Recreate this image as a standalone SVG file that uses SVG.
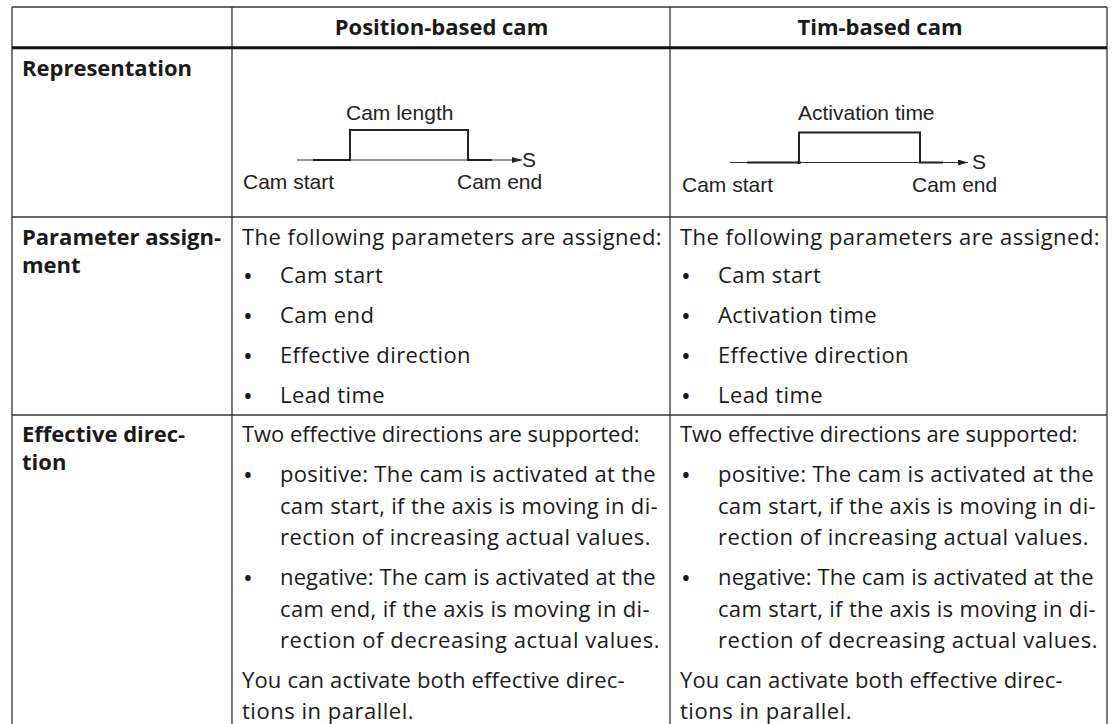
<svg xmlns="http://www.w3.org/2000/svg" width="1114" height="724" viewBox="0 0 1114 724">
  <defs>
    <style>
      .grid { stroke: #333; stroke-width: 1.3; fill: none; }
      .head { stroke: #111; stroke-width: 3; }
      .t { font-family: "Open Sans", "Noto Sans", "DejaVu Sans", sans-serif; font-size: 22px; letter-spacing: 0.4px; fill: #1a1a1a; }
      .dot { font-family: "Open Sans", "Noto Sans", "DejaVu Sans", sans-serif; font-size: 26px; fill: #1a1a1a; text-anchor: middle; }
      .b { font-family: "Open Sans", "Noto Sans", "DejaVu Sans", sans-serif; font-size: 22px; font-weight: bold; fill: #1a1a1a; }
      .d { font-family: "Liberation Sans", Arial, sans-serif; font-size: 21px; fill: #222; }
      .axis { stroke: #333; stroke-width: 1; fill: none; }
      .cam { stroke: #222; stroke-width: 2; fill: none; }
    </style>
    <marker id="arrow" viewBox="0 0 10 6" refX="10" refY="3" markerWidth="10" markerHeight="6" markerUnits="userSpaceOnUse" orient="auto">
      <path d="M0,0 L10,3 L0,6 z" fill="#222"/>
    </marker>
  </defs>

  <rect width="1114" height="724" fill="#fff"/>

  <!-- table rules -->
  <g id="connectors">
    <line class="grid" x1="12" y1="7" x2="1107" y2="7"/>
    <line class="grid" x1="12" y1="7" x2="12" y2="724"/>
    <line class="grid" x1="232" y1="7" x2="232" y2="724"/>
    <line class="grid" x1="670" y1="7" x2="670" y2="724"/>
    <line class="grid" x1="1107" y1="7" x2="1107" y2="724"/>
    <line class="head" x1="12" y1="47.8" x2="1107" y2="47.8"/>
    <line class="grid" x1="12" y1="217" x2="1107" y2="217"/>
    <line class="grid" x1="12" y1="415" x2="1107" y2="415"/>
  </g>

  <!-- header row -->
  <g id="header">
    <text class="b" x="441.5" y="35" text-anchor="middle">Position-based cam</text>
    <text class="b" x="880" y="35" text-anchor="middle">Tim-based cam</text>
  </g>

  <!-- representation row -->
  <g id="representation">
    <text class="b" x="22" y="76">Representation</text>
  </g>

  <g id="position-cam">
    <line class="axis" x1="297" y1="160" x2="522" y2="160" marker-end="url(#arrow)"/>
    <path class="cam" d="M313,160 H350 V130 H468 V160 H492"/>
    <text class="d" x="346" y="120">Cam length</text>
    <text class="d" x="522" y="167">S</text>
    <text class="d" x="243" y="189">Cam start</text>
    <text class="d" x="457" y="189">Cam end</text>
  </g>

  <g id="time-cam">
    <line class="axis" x1="730" y1="162.5" x2="968" y2="162.5" marker-end="url(#arrow)"/>
    <path class="cam" d="M747,162.5 H799 V132.5 H920 V162.5 H943"/>
    <rect x="797.5" y="161" width="3" height="3" fill="#222"/>
    <text class="d" x="798" y="120">Activation time</text>
    <text class="d" x="972" y="169">S</text>
    <text class="d" x="682" y="192">Cam start</text>
    <text class="d" x="912" y="192">Cam end</text>
  </g>

  <!-- parameter assignment row -->
  <g id="parameter-label">
    <text class="b" x="22" y="245">Parameter assign-</text>
    <text class="b" x="22" y="273">ment</text>
  </g>

  <g id="parameter-position">
    <text class="t" x="242" y="245" textLength="420">The following parameters are assigned:</text>
    <text class="dot" x="248" y="285">•</text><text class="t" x="280" y="283">Cam start</text>
    <text class="dot" x="248" y="325">•</text><text class="t" x="280" y="323">Cam end</text>
    <text class="dot" x="248" y="365">•</text><text class="t" x="280" y="363">Effective direction</text>
    <text class="dot" x="248" y="405">•</text><text class="t" x="280" y="403">Lead time</text>
  </g>

  <g id="parameter-time">
    <text class="t" x="680" y="245" textLength="420">The following parameters are assigned:</text>
    <text class="dot" x="686" y="285">•</text><text class="t" x="718" y="283">Cam start</text>
    <text class="dot" x="686" y="325">•</text><text class="t" x="718" y="323">Activation time</text>
    <text class="dot" x="686" y="365">•</text><text class="t" x="718" y="363">Effective direction</text>
    <text class="dot" x="686" y="405">•</text><text class="t" x="718" y="403">Lead time</text>
  </g>

  <!-- effective direction row -->
  <g id="direction-label">
    <text class="b" x="22" y="442">Effective direc-</text>
    <text class="b" x="22" y="470">tion</text>
  </g>

  <g id="direction-position">
    <text class="t" x="242" y="442" textLength="398">Two effective directions are supported:</text>
    <text class="dot" x="248" y="484">•</text>
    <text class="t" x="280" y="482" textLength="376">positive: The cam is activated at the</text>
    <text class="t" x="280" y="513.5" textLength="378">cam start, if the axis is moving in di-</text>
    <text class="t" x="280" y="545" textLength="371">rection of increasing actual values.</text>
    <text class="dot" x="248" y="587">•</text>
    <text class="t" x="280" y="585" textLength="376">negative: The cam is activated at the</text>
    <text class="t" x="280" y="616.5" textLength="370">cam end, if the axis is moving in di-</text>
    <text class="t" x="280" y="648" textLength="380">rection of decreasing actual values.</text>
    <text class="t" x="242" y="688" textLength="383">You can activate both effective direc-</text>
    <text class="t" x="242" y="719" textLength="172">tions in parallel.</text>
  </g>

  <g id="direction-time">
    <text class="t" x="680" y="442" textLength="398">Two effective directions are supported:</text>
    <text class="dot" x="686" y="484">•</text>
    <text class="t" x="718" y="482" textLength="376">positive: The cam is activated at the</text>
    <text class="t" x="718" y="513.5" textLength="378">cam start, if the axis is moving in di-</text>
    <text class="t" x="718" y="545" textLength="371">rection of increasing actual values.</text>
    <text class="dot" x="686" y="587">•</text>
    <text class="t" x="718" y="585" textLength="376">negative: The cam is activated at the</text>
    <text class="t" x="718" y="616.5" textLength="378">cam start, if the axis is moving in di-</text>
    <text class="t" x="718" y="648" textLength="380">rection of decreasing actual values.</text>
    <text class="t" x="680" y="688" textLength="383">You can activate both effective direc-</text>
    <text class="t" x="680" y="719" textLength="172">tions in parallel.</text>
  </g>
</svg>
